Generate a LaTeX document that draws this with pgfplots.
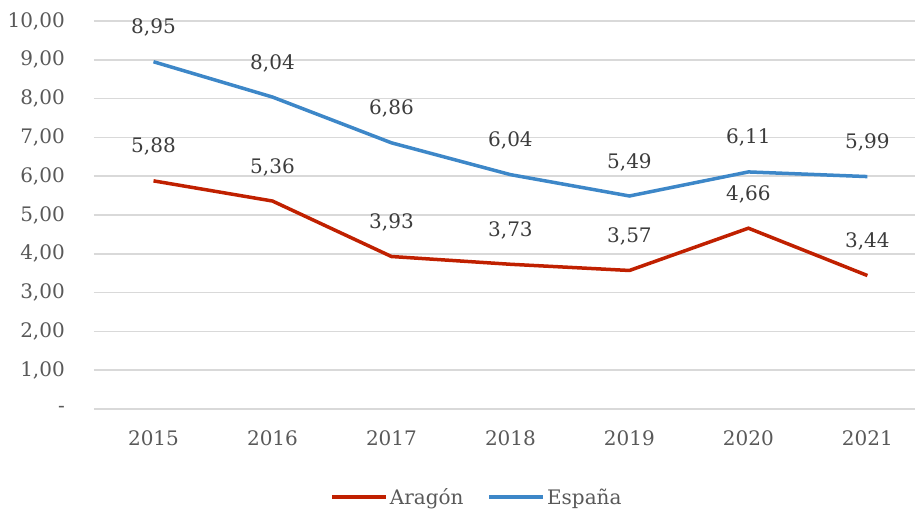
\documentclass[border=0pt]{standalone}
\usepackage{fontspec}
\setmainfont{DejaVu Serif}
\usepackage{pgfplots}
\pgfplotsset{compat=1.18}
\definecolor{aragon}{RGB}{192,32,0}
\definecolor{espana}{RGB}{61,135,200}
\definecolor{txtgray}{RGB}{89,89,89}
\definecolor{lblgray}{RGB}{60,60,60}
\definecolor{gridgray}{RGB}{217,217,217}
\begin{document}
\begin{tikzpicture}
\begin{axis}[
  name=ax,
  scale only axis,
  width=821pt, height=388pt,
  xmin=-0.5, xmax=6.4,
  ymin=0, ymax=10,
  xtick=data,
  xticklabels={2015,2016,2017,2018,2019,2020,2021},
  ytick={0,1,...,10},
  yticklabels={{-},{1,00},{2,00},{3,00},{4,00},{5,00},{6,00},{7,00},{8,00},{9,00},{10,00}},
  major tick length=0pt,
  axis line style={draw=none},
  ymajorgrids,
  grid style={gridgray, line width=1.5pt},
  font=\fontsize{20}{23}\selectfont,
  tick label style={text=txtgray},
  yticklabel style={anchor=east, inner xsep=0pt, xshift=-29pt},
  xticklabel style={anchor=north, inner ysep=0pt, yshift=-21pt},
  point meta=explicit symbolic,
  nodes near coords,
  every node near coord/.append style={anchor=center, yshift=34pt, text=lblgray, inner sep=0pt},
  legend columns=2,
  legend style={at={(axis description cs:0.4665,-0.227)}, anchor=center, draw=none,
    fill=none, text=txtgray, /tikz/every even column/.append style={column sep=22pt}},
  legend image code/.code={\draw[#1, line width=3.5pt] (0pt,0pt) -- (54pt,0pt);},
]
\addplot[aragon, line width=3.5pt] coordinates {
  (0,5.88) [5,88] (1,5.36) [5,36] (2,3.93) [3,93] (3,3.73) [3,73]
  (4,3.57) [3,57] (5,4.66) [4,66] (6,3.44) [3,44]
};
\addplot[espana, line width=3.5pt] coordinates {
  (0,8.95) [8,95] (1,8.04) [8,04] (2,6.86) [6,86] (3,6.04) [6,04]
  (4,5.49) [5,49] (5,6.11) [6,11] (6,5.99) [5,99]
};
\legend{Aragón, España}
\end{axis}
\pgfresetboundingbox
\path[use as bounding box] ([xshift=-94pt,yshift=-102pt]ax.south west) rectangle ([yshift=21pt]ax.north east);
\end{tikzpicture}
\end{document}
